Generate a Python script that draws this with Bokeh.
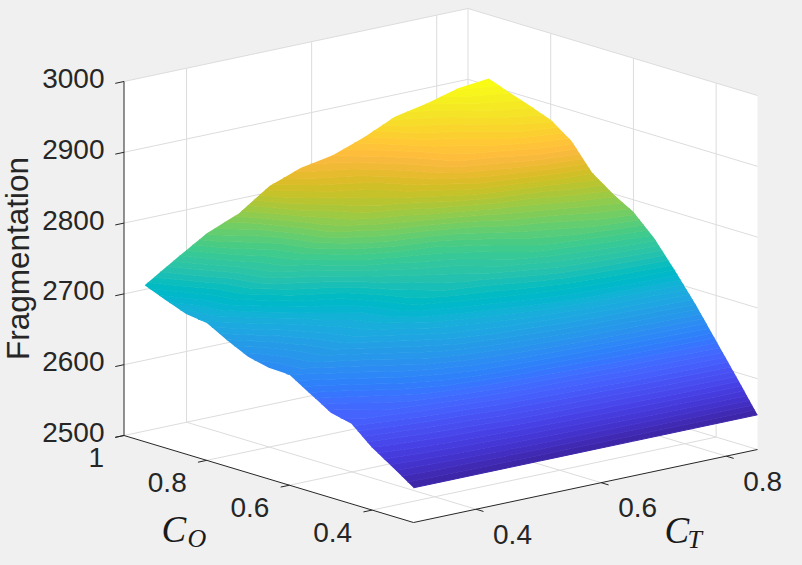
import numpy as np
from bokeh.embed import file_html
from bokeh.resources import INLINE
from bokeh.plotting import figure
from bokeh.models import Range1d
from bokeh.core.properties import value

C_T = [0.30,0.35,0.40,0.45,0.50,0.55,0.60,0.65,0.70,0.75,0.80,0.85]
C_O = [0.95,0.90,0.85,0.80,0.75,0.70,0.65,0.60,0.55,0.50,0.45,0.40,0.35,0.30]
FRAG_095 = [2721,2749,2776,2794,2824,2840,2848,2864,2884,2893,2905,2910]
FRAG_090 = [2709,2737,2763,2780,2810,2826,2835,2851,2871,2880,2893,2899]
FRAG_085 = [2698,2724,2750,2768,2796,2813,2822,2839,2858,2869,2882,2889]
FRAG_080 = [2694,2719,2744,2761,2787,2803,2813,2829,2848,2858,2870,2878]
FRAG_075 = [2678,2702,2725,2741,2767,2783,2793,2808,2826,2836,2849,2857]
FRAG_070 = [2664,2685,2706,2719,2742,2756,2764,2778,2794,2803,2814,2821]
FRAG_065 = [2657,2676,2694,2707,2728,2740,2748,2761,2775,2783,2793,2800]
FRAG_060 = [2656,2672,2688,2702,2720,2731,2738,2750,2762,2769,2777,2783]
FRAG_055 = [2638,2652,2667,2684,2700,2710,2718,2728,2738,2744,2750,2755]
FRAG_050 = [2620,2633,2650,2665,2678,2687,2694,2702,2709,2712,2715,2718]
FRAG_045 = [2613,2621,2630,2640,2649,2656,2661,2666,2670,2673,2676,2679]
FRAG_040 = [2588,2594,2600,2604,2611,2615,2618,2622,2627,2630,2633,2636]
FRAG_035 = [2569,2572,2575,2577,2580,2582,2584,2586,2588,2590,2592,2593]
FRAG_030 = [2549,2549,2549,2549,2549,2549,2549,2549,2549,2549,2549,2549]
Z = np.array([FRAG_095,FRAG_090,FRAG_085,FRAG_080,FRAG_075,FRAG_070,FRAG_065,FRAG_060,FRAG_055,FRAG_050,FRAG_045,FRAG_040,FRAG_035,FRAG_030],dtype=float)

PARULA=[(0.2422,0.1504,0.6603),(0.2504,0.1650,0.7076),(0.2578,0.1818,0.7511),(0.2647,0.1978,0.7952),(0.2706,0.2147,0.8364),(0.2751,0.2342,0.8710),(0.2783,0.2559,0.8991),(0.2803,0.2782,0.9221),(0.2813,0.3006,0.9414),(0.2810,0.3228,0.9579),(0.2795,0.3447,0.9717),(0.2760,0.3667,0.9829),(0.2699,0.3892,0.9906),(0.2602,0.4123,0.9952),(0.2440,0.4358,0.9988),(0.2206,0.4603,0.9973),(0.1963,0.4847,0.9892),(0.1834,0.5074,0.9798),(0.1786,0.5289,0.9682),(0.1764,0.5499,0.9520),(0.1687,0.5703,0.9359),(0.1540,0.5902,0.9218),(0.1460,0.6091,0.9079),(0.1380,0.6276,0.8973),(0.1248,0.6459,0.8883),(0.1113,0.6635,0.8763),(0.0952,0.6798,0.8598),(0.0689,0.6948,0.8394),(0.0297,0.7082,0.8163),(0.0036,0.7203,0.7917),(0.0067,0.7312,0.7660),(0.0433,0.7411,0.7394),(0.0964,0.7500,0.7120),(0.1408,0.7584,0.6842),(0.1717,0.7670,0.6554),(0.1938,0.7758,0.6251),(0.2161,0.7843,0.5923),(0.2470,0.7918,0.5567),(0.2906,0.7973,0.5188),(0.3406,0.8008,0.4789),(0.3909,0.8029,0.4354),(0.4456,0.8024,0.3909),(0.5044,0.7993,0.3480),(0.5616,0.7942,0.3045),(0.6174,0.7876,0.2612),(0.6720,0.7793,0.2227),(0.7242,0.7698,0.1910),(0.7738,0.7598,0.1646),(0.8203,0.7498,0.1535),(0.8634,0.7406,0.1596),(0.9035,0.7330,0.1774),(0.9393,0.7288,0.2100),(0.9728,0.7298,0.2394),(0.9956,0.7434,0.2371),(0.9970,0.7659,0.2199),(0.9952,0.7893,0.2028),(0.9892,0.8136,0.1885),(0.9786,0.8386,0.1766),(0.9676,0.8639,0.1643),(0.9610,0.8890,0.1537),(0.9597,0.9135,0.1423),(0.9628,0.9373,0.1265),(0.9691,0.9606,0.1064),(0.9769,0.9839,0.0805)]
hexs=["#%02x%02x%02x"%tuple(int(round(c*255)) for c in t) for t in PARULA]

CT_MIN,CT_MAX=0.3,0.85
CO_MIN,CO_MAX=0.3,1.0
Z_MIN,Z_MAX=2500,3000
CT_TICKS=[0.4,0.6,0.8]; CO_TICKS=[0.4,0.6,0.8,1.0]; Z_TICKS=[2500,2600,2700,2800,2900,3000]

def px(ct,co):
    return 413+(np.asarray(ct)-0.3)*625.45-(np.asarray(co)-0.3)*413.57
def py(ct,co,z):
    return 522-(np.asarray(ct)-0.3)*132.7-(np.asarray(co)-0.3)*124.3-(np.asarray(z)-2500)*0.708

p=figure(width=802,height=565,x_range=Range1d(0,802),y_range=Range1d(565,0),toolbar_location=None,output_backend="svg",min_border=0,
         background_fill_color="#f0f0f0",border_fill_color="#f0f0f0",outline_line_color=None,x_axis_location=None,y_axis_location=None)
p.grid.visible=False

def poly(pts):
    p.patch([px(a,b) for a,b,c in pts],[py(a,b,c) for a,b,c in pts],fill_color="white",line_color=None)
poly([(CT_MIN,CO_MIN,Z_MIN),(CT_MAX,CO_MIN,Z_MIN),(CT_MAX,CO_MAX,Z_MIN),(CT_MIN,CO_MAX,Z_MIN)])
poly([(CT_MIN,CO_MAX,Z_MIN),(CT_MAX,CO_MAX,Z_MIN),(CT_MAX,CO_MAX,Z_MAX),(CT_MIN,CO_MAX,Z_MAX)])
poly([(CT_MAX,CO_MAX,Z_MIN),(CT_MAX,CO_MIN,Z_MIN),(CT_MAX,CO_MIN,Z_MAX),(CT_MAX,CO_MAX,Z_MAX)])

GRID="#dcdcdc"
def seg(a,b,color=GRID,w=1):
    p.line([px(a[0],a[1]),px(b[0],b[1])],[py(*a),py(*b)],line_color=color,line_width=w)
for ct in CT_TICKS:
    seg((ct,CO_MIN,Z_MIN),(ct,CO_MAX,Z_MIN)); seg((ct,CO_MAX,Z_MIN),(ct,CO_MAX,Z_MAX))
for co in CO_TICKS[:-1]:
    seg((CT_MIN,co,Z_MIN),(CT_MAX,co,Z_MIN)); seg((CT_MAX,co,Z_MIN),(CT_MAX,co,Z_MAX))
for z in Z_TICKS:
    seg((CT_MIN,CO_MAX,z),(CT_MAX,CO_MAX,z)); seg((CT_MAX,CO_MAX,z),(CT_MAX,CO_MIN,z))
seg((CT_MAX,CO_MAX,Z_MIN),(CT_MAX,CO_MAX,Z_MAX))

X=np.array([[px(ct,co) for ct in C_T] for co in C_O])
Y=np.array([[py(ct,co,Z[j,i]) for i,ct in enumerate(C_T)] for j,co in enumerate(C_O)])
levels=np.linspace(Z.min(),Z.max(),65)
p.contour(X,Y,Z,levels,fill_color=hexs,line_color=hexs+[hexs[-1]],line_width=1)

AX="#262626"
seg((CT_MIN,CO_MAX,Z_MIN),(CT_MIN,CO_MAX,Z_MAX),AX)
seg((CT_MIN,CO_MAX,Z_MIN),(CT_MIN,CO_MIN,Z_MIN),AX)
seg((CT_MIN,CO_MIN,Z_MIN),(CT_MAX,CO_MIN,Z_MIN),AX)
for ct in CT_TICKS:
    seg((ct,CO_MIN,Z_MIN),(ct,CO_MIN-0.018,Z_MIN),AX)
for co in CO_TICKS:
    seg((CT_MIN,co,Z_MIN),(CT_MIN-0.014,co,Z_MIN),AX)
for z in Z_TICKS:
    seg((CT_MIN,CO_MAX,z),(CT_MIN-0.014,CO_MAX,z),AX)

font=value("Liberation Sans")
kw=dict(text_font=font,text_font_size="28px",text_color=AX,text_baseline="middle")
p.text(px(CT_MIN,CO_MAX)*np.ones(len(Z_TICKS)),py(CT_MIN,CO_MAX,Z_TICKS),text=[str(z) for z in Z_TICKS],x_offset=-19.5,y_offset=-3,text_align="right",**kw)
p.text(px(CT_MIN,np.array(CO_TICKS)),py(CT_MIN,np.array(CO_TICKS),Z_MIN),text=["%g"%c for c in CO_TICKS],x_offset=-20,y_offset=22,text_align="right",**kw)
p.text(px(np.array(CT_TICKS),CO_MIN),py(np.array(CT_TICKS),CO_MIN,Z_MIN),text=["%g"%c for c in CT_TICKS],x_offset=17,y_offset=25,text_align="left",**kw)
p.text([17],[258],text=["Fragmentation"],angle=[np.pi/2],text_font=font,text_font_size="31.5px",text_color=AX,text_align="center",text_baseline="middle")
serif=value("Liberation Serif")
p.text([161,664],[529,530],text=["C","C"],text_font=serif,text_font_style="italic",text_font_size="37px",text_color="#1a1a1a",text_align="left",text_baseline="alphabetic")
p.text([187,687],[538,539],text=["O","T"],text_font=serif,text_font_style="italic",text_font_size="26px",text_color="#1a1a1a",text_align="left",text_baseline="alphabetic")

html=file_html(p,INLINE)
html=html.replace("</head>","<style>html,body{margin:0;padding:0;background:#f0f0f0;overflow:hidden}</style></head>",1)
open("out.html","w").write(html)
